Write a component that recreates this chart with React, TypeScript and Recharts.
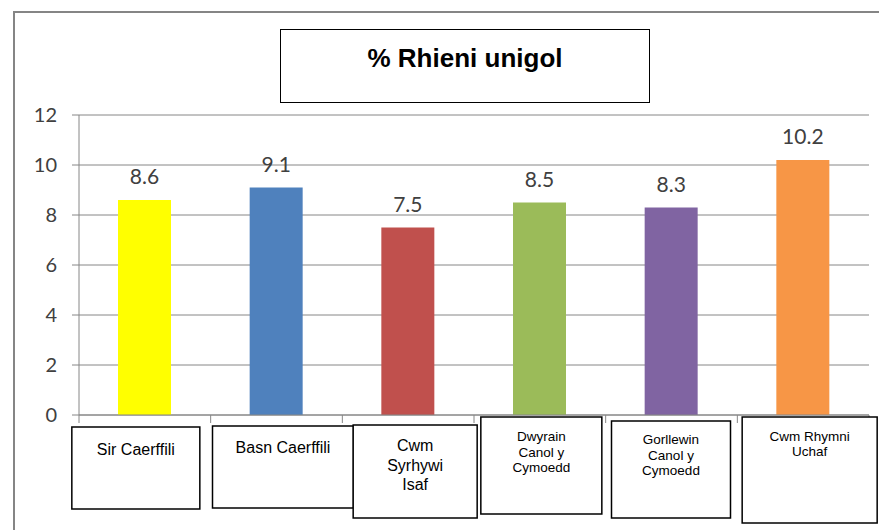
import React from "react";
import { BarChart, Bar, Cell, XAxis, YAxis, CartesianGrid, LabelList } from "recharts";

// data
const categories = [
  "Sir Caerffili",
  "Basn Caerffili",
  "Cwm Syrhywi Isaf",
  "Dwyrain Canol y Cymoedd",
  "Gorllewin Canol y Cymoedd",
  "Cwm Rhymni Uchaf",
];
const categoryLines = [
  ["Sir Caerffili"],
  ["Basn Caerffili"],
  ["Cwm", "Syrhywi", "Isaf"],
  ["Dwyrain", "Canol y", "Cymoedd"],
  ["Gorllewin", "Canol y", "Cymoedd"],
  ["Cwm Rhymni", "Uchaf"],
];
const values = [8.6, 9.1, 7.5, 8.5, 8.3, 10.2];
const barColors = ["#FFFF00", "#4F81BD", "#C0504D", "#9BBB59", "#8064A2", "#F79646"];
const yTicks = [0, 2, 4, 6, 8, 10, 12];
const title = "% Rhieni unigol";

const chartData = categories.map((name, i) => ({ name, value: values[i] }));

// hand placed label boxes under the axis (relative to tick centre / axis line)
const labelBoxes = [
  { x1: -73, x2: 55, y1: 12, y2: 94, size: 16, first: 28, lh: 20 },
  { x1: -64, x2: 77, y1: 11, y2: 93, size: 16, first: 27, lh: 20 },
  { x1: -55, x2: 69, y1: 10, y2: 103, size: 16, first: 26, lh: 19.5 },
  { x1: -59, x2: 62, y1: 2, y2: 99, size: 13.5, first: 24, lh: 15.5 },
  { x1: -60, x2: 59, y1: 6, y2: 103, size: 13.5, first: 23, lh: 15.5 },
  { x1: -61, x2: 74, y1: 2, y2: 108, size: 13.5, first: 24, lh: 15 },
];

const axisGrey = "#868686";

const CategoryTick = (props: any) => {
  const { x, y, index, payload } = props;
  const half = payload && payload.offset ? payload.offset : 790 / 12;
  const b = labelBoxes[index];
  const lines = categoryLines[index];
  const cx = x + (b.x1 + b.x2) / 2;
  return (
    <g>
      <line x1={x - half} x2={x - half} y1={y} y2={y + 8} stroke={axisGrey} />
      {index === categories.length - 1 && (
        <line x1={x + half} x2={x + half} y1={y} y2={y + 8} stroke={axisGrey} />
      )}
      <rect
        x={x + b.x1}
        y={y + b.y1}
        width={b.x2 - b.x1}
        height={b.y2 - b.y1}
        fill="#fff"
        stroke="#000"
        strokeWidth={1.5}
      />
      {lines.map((t, i) => (
        <text
          key={i}
          x={cx}
          y={y + b.y1 + b.first + i * b.lh}
          textAnchor="middle"
          fontSize={b.size}
          fontFamily="'Liberation Sans', Arial, sans-serif"
          fill="#000"
        >
          {t}
        </text>
      ))}
    </g>
  );
};

const App: React.FC = () => {
  return (
    <div style={{ position: "relative", width: 879, height: 530, overflow: "hidden", background: "#fff" }}>
      <style>{"body{margin:0}"}</style>
      <div
        style={{
          position: "absolute",
          left: 13,
          top: 11,
          width: 900,
          height: 600,
          borderLeft: "2px solid #858585",
          borderTop: "2px solid #858585",
        }}
      />
      <div style={{ position: "absolute", left: 0, top: 0 }}>
        <BarChart width={879} height={530} data={chartData} margin={{ top: 115, right: 10, bottom: 0, left: 0 }}>
          <CartesianGrid vertical={false} stroke={axisGrey} />
          <XAxis
            dataKey="name"
            height={115}
            interval={0}
            axisLine={{ stroke: axisGrey }}
            tickLine={false}
            tickSize={0}
            tickMargin={0}
            tick={(p: any) => <CategoryTick {...p} />}
          />
          <YAxis
            width={79}
            domain={[0, 12]}
            ticks={yTicks}
            interval={0}
            tickSize={7}
            tickMargin={15}
            axisLine={{ stroke: axisGrey }}
            tickLine={{ stroke: axisGrey }}
            tick={{ fill: "#404040", fontSize: 20, fontFamily: "Lato, 'Open Sans', sans-serif" }}
          />
          <Bar dataKey="value" barSize={53} isAnimationActive={false}>
            {chartData.map((d, i) => (
              <Cell key={`cell-${i}`} fill={barColors[i]} />
            ))}
            <LabelList
              dataKey="value"
              position="top"
              offset={16}
              fill="#404040"
              fontSize={21}
              fontFamily="Lato, 'Open Sans', sans-serif"
            />
          </Bar>
        </BarChart>
      </div>
      <div
        style={{
          position: "absolute",
          left: 280,
          top: 29,
          width: 370,
          height: 74,
          boxSizing: "border-box",
          border: "1.5px solid #000",
          background: "#fff",
          textAlign: "center",
          fontFamily: "'Liberation Sans', Arial, sans-serif",
          fontWeight: "bold",
          fontSize: 26,
          lineHeight: "30px",
          paddingTop: 13,
          color: "#000",
        }}
      >
        {title}
      </div>
    </div>
  );
};

export default App;
